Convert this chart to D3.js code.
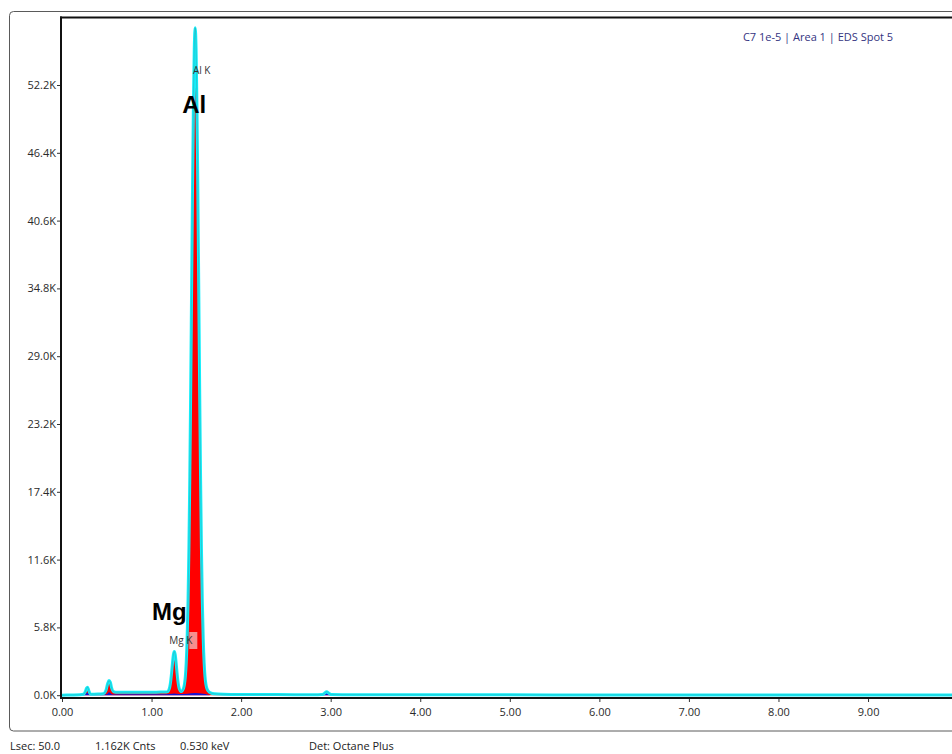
<!DOCTYPE html>
<html>
<head>
<meta charset="utf-8">
<script src="https://cdn.jsdelivr.net/npm/d3@7"></script>
<style>
  html, body { margin: 0; padding: 0; background: #fff; }
  svg { display: block; font-family: "Open Sans", "DejaVu Sans", sans-serif; }
</style>
</head>
<body>
<svg id="chart" width="952" height="754"></svg>
<script>
// EDS spectrum: energy (keV) and counts
const spectrumEnergy = [
  0.00, 0.10, 0.20, 0.24, 0.26, 0.275, 0.285, 0.30, 0.315, 0.33, 0.40, 0.46, 0.49, 0.51, 0.525, 0.54, 0.555, 0.575,
  0.60, 0.70, 0.80, 0.90, 1.00, 1.10, 1.15,
  1.174, 1.184, 1.194, 1.204, 1.214, 1.224, 1.234, 1.244, 1.254, 1.264, 1.274, 1.284, 1.294, 1.304, 1.314, 1.324, 1.334,
  1.347, 1.357, 1.367, 1.377, 1.387, 1.397, 1.407, 1.417, 1.427, 1.437, 1.447, 1.457, 1.467, 1.477, 1.487,
  1.497, 1.507, 1.517, 1.527, 1.537, 1.547, 1.557, 1.567, 1.577, 1.587, 1.597, 1.607, 1.617, 1.627,
  1.64, 1.66, 1.70, 1.80, 2.00, 2.40, 2.80, 2.90, 2.93, 2.955, 2.98, 3.01, 3.30, 4.00, 5.00, 6.00, 7.00, 8.00, 9.00, 10.00, 10.60
];
const spectrumCounts = [
  0, 20, 40, 80, 300, 620, 690, 380, 120, 90, 95, 120, 400, 1000, 1250, 1100, 600, 300,
  255, 250, 250, 255, 260, 265, 268,
  286, 334, 461, 736, 1232, 1959, 2792, 3477, 3745, 3477, 2792, 1959, 1232, 736, 461, 348, 324,
  428, 590, 930, 1595, 2800, 4840, 7970, 12570, 18760, 26310, 34780, 43180, 50400, 55340, 57100,
  55340, 50400, 43180, 34780, 26310, 18760, 12570, 7970, 4840, 2800, 1595, 930, 590, 420,
  300, 200, 120, 80, 60, 50, 45, 50, 160, 300, 170, 50, 40, 35, 30, 25, 25, 20, 20, 15, 15
];

// Fitted background
const backgroundEnergy = [0.00, 0.22, 0.25, 0.285, 0.31, 0.45, 0.50, 0.525, 0.56, 0.80, 1.10, 1.20, 1.254, 1.30, 1.40, 1.487, 1.58, 1.62, 1.66, 2.88, 2.92, 2.955, 2.99, 3.03, 10.60];
const backgroundCounts = [0, 0, 30, 200, 40, 50, 80, 260, 70, 80, 90, 110, 150, 110, 130, 180, 120, 60, 0, 0, 100, 260, 100, 0, 0];

// Axis ticks
const xTicks = [0, 1, 2, 3, 4, 5, 6, 7, 8, 9];
const yTicks = [0, 5800, 11600, 17400, 23200, 29000, 34800, 40600, 46400, 52200];

// Identified peaks
const peakLines = ["Mg K", "Al K"];
const peakEnergy = [1.254, 1.487];
const elementSymbol = ["Mg", "Al"];

// Header and status bar
const spectrumTitle = "C7 1e-5 | Area 1 | EDS Spot 5";
const statusItems = ["Lsec: 50.0", "1.162K Cnts", "0.530 keV", "Det: Octane Plus"];

// ---------------------------------------------------------------
const svg = d3.select("#chart");
const W = 952, H = 754;
const plotLeft = 61, plotTop = 17.5, plotBottom = 698;

const x = d3.scaleLinear().domain([0, 10]).range([62, 62 + 895.6]);
const y = d3.scaleLinear().domain([0, 52200]).range([695.2, 85]);

svg.append("rect").attr("width", W).attr("height", H).attr("fill", "#fff");

// outer panel
svg.append("rect")
  .attr("x", 9.5).attr("y", 11.5).attr("width", 1100).attr("height", 719.5)
  .attr("rx", 4).attr("fill", "none").attr("stroke", "#5a5a5a").attr("stroke-width", 1);

const defs = svg.append("defs");
defs.append("clipPath").attr("id", "plotClip")
  .append("rect").attr("x", plotLeft + 1).attr("y", plotTop + 1).attr("width", 1000).attr("height", plotBottom - plotTop - 2);

const spectrum = spectrumEnergy.map((e, i) => ({ e, c: spectrumCounts[i] }));
const background = backgroundEnergy.map((e, i) => ({ e, c: backgroundCounts[i] }));

const area = d3.area().x(d => x(d.e)).y0(y(0)).y1(d => y(d.c)).curve(d3.curveMonotoneX);
const line = d3.line().x(d => x(d.e)).y(d => y(d.c)).curve(d3.curveMonotoneX);

const plot = svg.append("g").attr("clip-path", "url(#plotClip)");

plot.append("path").datum(spectrum).attr("d", area).attr("fill", "#ff0000");
plot.append("path").datum(background).attr("d", area).attr("fill", "#1414d2");
plot.append("path").datum(spectrum).attr("d", line)
  .attr("fill", "none").attr("stroke", "#14eefa").attr("stroke-width", 3).attr("stroke-linejoin", "round");
plot.append("path").datum(spectrum).attr("d", line)
  .attr("fill", "none").attr("stroke", "#555").attr("stroke-width", 0.6).attr("opacity", 0.4);

// peak labels
const labelLayout = [
  { lineY: 644, symY: 620, symDx: -5, boxX: 15 },
  { lineY: 74, symY: 113, symDx: -1, boxX: null }
];
peakLines.forEach((name, i) => {
  const px = x(peakEnergy[i]);
  const L = labelLayout[i];
  if (L.boxX !== null) {
    svg.append("rect").attr("x", px + L.boxX).attr("y", 632).attr("width", 8).attr("height", 17)
      .attr("fill", "#eeeeee").attr("opacity", 0.6);
  }
  svg.append("text").attr("x", px + 6.5).attr("y", L.lineY)
    .attr("text-anchor", "middle").attr("font-size", 10).attr("fill", "#333").text(name);
  svg.append("text").attr("x", px + L.symDx).attr("y", L.symY)
    .attr("text-anchor", "middle").attr("font-size", 24).attr("font-weight", "bold")
    .attr("font-family", "'Liberation Sans', Arial, sans-serif").attr("fill", "#000").text(elementSymbol[i]);
});

// axes
const yAxis = svg.append("g").attr("transform", `translate(${plotLeft},0)`)
  .call(d3.axisLeft(y).tickValues(yTicks).tickSize(4).tickPadding(1)
    .tickFormat(d => (d / 1000).toFixed(1) + "K"));
yAxis.select(".domain").remove();
yAxis.selectAll("line").attr("stroke", "#333");
yAxis.selectAll("text").attr("font-size", 11).attr("fill", "#2a2a2a").attr("font-family", "'Open Sans', sans-serif");

const xAxis = svg.append("g").attr("transform", `translate(0,${plotBottom})`)
  .call(d3.axisBottom(x).tickValues(xTicks).tickSize(4).tickPadding(6).tickFormat(d => d.toFixed(2)));
xAxis.select(".domain").remove();
xAxis.selectAll("line").attr("stroke", "#333");
xAxis.selectAll("text").attr("font-size", 11).attr("fill", "#2a2a2a").attr("font-family", "'Open Sans', sans-serif");

// plot frame
svg.append("line").attr("x1", plotLeft).attr("x2", plotLeft).attr("y1", plotTop - 1).attr("y2", plotBottom + 1)
  .attr("stroke", "#111").attr("stroke-width", 2);
svg.append("line").attr("x1", plotLeft - 1).attr("x2", W + 10).attr("y1", plotTop).attr("y2", plotTop)
  .attr("stroke", "#111").attr("stroke-width", 2);
svg.append("line").attr("x1", plotLeft - 1).attr("x2", W + 10).attr("y1", plotBottom).attr("y2", plotBottom)
  .attr("stroke", "#111").attr("stroke-width", 2);

// title
svg.append("text").attr("x", 818).attr("y", 41).attr("text-anchor", "middle")
  .attr("font-size", 11).attr("fill", "#34347f").text(spectrumTitle);

// status bar
const statusX = [10, 95, 180, 309];
statusItems.forEach((t, i) => {
  svg.append("text").attr("x", statusX[i]).attr("y", 750)
    .attr("font-size", 11).attr("fill", "#222").text(t);
});
</script>
</body>
</html>
